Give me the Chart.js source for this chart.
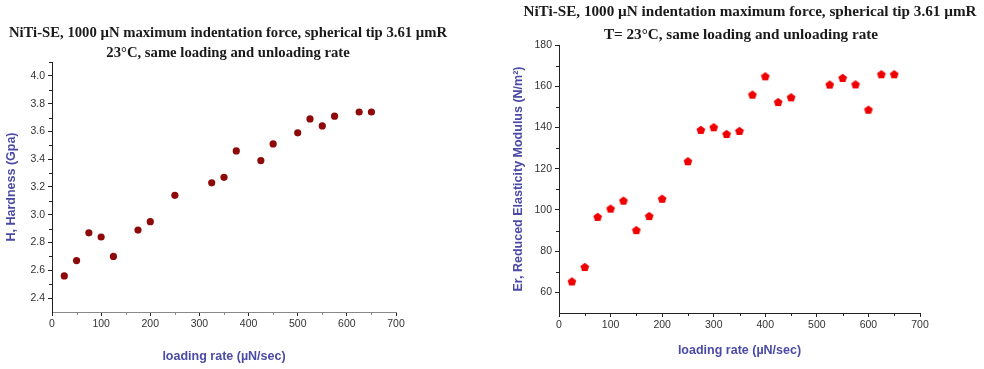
<!DOCTYPE html>
<html>
<head>
<meta charset="utf-8">
<script src="https://cdn.jsdelivr.net/npm/chart.js@4.4.1/dist/chart.umd.min.js"></script>
<style>
  body { margin: 0; background: #fff; }
  #hardness { position: absolute; left: 0; top: 0; }
  #modulus { position: absolute; left: 490px; top: 0; }
</style>
</head>
<body>
<canvas id="hardness" width="490" height="369"></canvas>
<canvas id="modulus" width="494" height="369"></canvas>
<script>
// hardness chart (left)
const hardnessRates = [25, 50, 75, 100, 125, 175, 200, 250, 325, 350, 375, 425, 450, 500, 525, 550, 575, 625, 650];
const hardnessValues = [2.56, 2.67, 2.87, 2.84, 2.70, 2.89, 2.95, 3.14, 3.23, 3.27, 3.46, 3.39, 3.51, 3.59, 3.69, 3.64, 3.71, 3.74, 3.74];
const hardnessTicks = [2.4, 2.6, 2.8, 3.0, 3.2, 3.4, 3.6, 3.8, 4.0];
const hardnessMinor = [2.5, 2.7, 2.9, 3.1, 3.3, 3.5, 3.7, 3.9, 4.1];

// reduced modulus chart (right)
const modulusRates = [25, 50, 75, 100, 125, 150, 175, 200, 250, 275, 300, 325, 350, 375, 400, 425, 450, 525, 550, 575, 600, 625, 650];
const modulusValues = [65.3, 72.3, 96.6, 100.6, 104.5, 90.2, 97.0, 105.4, 123.6, 138.8, 140.1, 136.8, 138.3, 155.9, 164.8, 152.3, 154.6, 160.8, 164.0, 160.9, 148.6, 165.8, 165.8];
const modulusTicks = [60, 80, 100, 120, 140, 160, 180];
const modulusMinor = [70, 90, 110, 130, 150, 170];

const rateTicks = [0, 100, 200, 300, 400, 500, 600, 700];
const rateMinor = [50, 150, 250, 350, 450, 550, 650];

const hardnessTitle = ['NiTi-SE, 1000 \u00b5N maximum indentation force, spherical tip 3.61 \u00b5mR', '23\u00b0C, same loading and unloading rate'];
const modulusTitle = ['NiTi-SE, 1000 \u00b5N indentation maximum force, spherical tip 3.61 \u00b5mR', 'T= 23\u00b0C, same loading and unloading rate'];

const axisBlue = '#4b4ba6';
const sans = '"Liberation Sans", Arial, sans-serif';

// titles drawn by hand so they can sit off-centre like the original
const titleLines = {
  id: 'titleLines',
  afterDraw(chart, args, opts) {
    const ctx = chart.ctx;
    ctx.save();
    ctx.font = 'bold ' + opts.size + 'px "Liberation Serif", "Times New Roman", serif';
    ctx.fillStyle = '#1a1a1a';
    ctx.textAlign = 'center';
    ctx.textBaseline = 'middle';
    opts.lines.forEach((t, i) => ctx.fillText(t, opts.x[i], opts.y + i * opts.dy));
    ctx.restore();
  }
};

// short minor ticks between the labelled ones
const minorTicks = {
  id: 'minorTicks',
  afterDraw(chart, args, opts) {
    const ctx = chart.ctx;
    const xs = chart.scales.x, ys = chart.scales.y;
    ctx.save();
    ctx.lineWidth = 1;
    ctx.strokeStyle = opts.xColor;
    opts.x.forEach(v => {
      const px = Math.round(xs.getPixelForValue(v)) + 0.5;
      ctx.beginPath(); ctx.moveTo(px, xs.top); ctx.lineTo(px, xs.top + 3); ctx.stroke();
    });
    ctx.strokeStyle = opts.yColor;
    opts.y.forEach(v => {
      const py = Math.round(ys.getPixelForValue(v)) + 0.5;
      ctx.beginPath(); ctx.moveTo(ys.right, py); ctx.lineTo(ys.right - 3, py); ctx.stroke();
    });
    ctx.restore();
  }
};

function pentagon(color, r) {
  const c = document.createElement('canvas');
  const s = Math.ceil(r * 2 + 2);
  c.width = s; c.height = s;
  const g = c.getContext('2d');
  g.fillStyle = color;
  g.beginPath();
  for (let i = 0; i < 5; i++) {
    const a = -Math.PI / 2 + i * 2 * Math.PI / 5;
    const px = s / 2 + r * Math.cos(a), py = s / 2 + 0.4 + r * Math.sin(a);
    if (i === 0) g.moveTo(px, py); else g.lineTo(px, py);
  }
  g.closePath();
  g.fill();
  return c;
}

function xy(xs, ys) {
  return xs.map((v, i) => ({ x: v, y: ys[i] }));
}

function createScatter(canvas, cfg) {
  return new Chart(canvas, {
    type: 'scatter',
    data: {
      datasets: [{
        data: cfg.points,
        pointStyle: cfg.pointStyle,
        pointRadius: cfg.radius,
        backgroundColor: cfg.color,
        borderWidth: 0
      }]
    },
    options: {
      responsive: false,
      animation: false,
      layout: { padding: cfg.padding },
      plugins: {
        legend: { display: false },
        tooltip: { enabled: false },
        titleLines: cfg.title,
        minorTicks: cfg.minor
      },
      scales: {
        x: {
          type: 'linear',
          min: 0,
          max: 700,
          afterBuildTicks: s => { s.ticks = rateTicks.map(v => ({ value: v })); },
          afterFit: s => { s.height = cfg.xHeight; },
          border: { color: cfg.xAxisColor, width: 1 },
          grid: { drawOnChartArea: false, drawTicks: true, tickLength: 4, color: '#222' },
          ticks: { color: '#333', padding: 2, maxRotation: 0, font: { family: sans, size: 10.5 } },
          title: {
            display: true,
            text: 'loading rate (\u00b5N/sec)',
            color: axisBlue,
            font: { family: sans, size: 12.5, weight: 'bold' },
            padding: { top: 0, bottom: cfg.xTitlePad }
          }
        },
        y: {
          min: cfg.yMin,
          max: cfg.yMax,
          afterBuildTicks: s => { s.ticks = cfg.yTicks.map(v => ({ value: v })); },
          afterFit: s => { s.width = cfg.yWidth; },
          border: { color: '#222', width: 1 },
          grid: { drawOnChartArea: false, drawTicks: true, tickLength: 4, color: '#222' },
          ticks: {
            color: '#333',
            padding: 3,
            font: { family: sans, size: 10.5 },
            callback: v => cfg.yFormat(v)
          },
          title: {
            display: true,
            text: cfg.yTitle,
            color: axisBlue,
            font: { family: sans, size: 12.5, weight: 'bold' },
            padding: { top: cfg.yTitlePad, bottom: 0 }
          }
        }
      }
    },
    plugins: [titleLines, minorTicks]
  });
}

const hardnessChart = createScatter(document.getElementById('hardness'), {
  points: xy(hardnessRates, hardnessValues),
  pointStyle: 'circle',
  radius: 3.6,
  color: '#8e0a0a',
  padding: { top: 62, right: 94, bottom: 0, left: 0 },
  title: { lines: hardnessTitle, x: [228, 228], y: 33, dy: 20, size: 14.7 },
  minor: { x: rateMinor, y: hardnessMinor, xColor: '#888', yColor: '#222' },
  xHeight: 57,
  xAxisColor: '#888',
  xTitlePad: 4.5,
  yMin: 2.3,
  yMax: 4.1,
  yTicks: hardnessTicks,
  yWidth: 52,
  yFormat: v => v.toFixed(1),
  yTitle: 'H, Hardness (Gpa)',
  yTitlePad: 4.5
});

const modulusChart = createScatter(document.getElementById('modulus'), {
  points: xy(modulusRates, modulusValues),
  pointStyle: pentagon('#ee0000', 4.6),
  radius: 4.7,
  color: '#ee0000',
  padding: { top: 45, right: 64, bottom: 0, left: 0 },
  title: { lines: modulusTitle, x: [260, 251], y: 12, dy: 23, size: 15.2 },
  minor: { x: rateMinor, y: modulusMinor, xColor: '#222', yColor: '#222' },
  xHeight: 56,
  xAxisColor: '#222',
  xTitlePad: 10.5,
  yMin: 50,
  yMax: 180,
  yTicks: modulusTicks,
  yWidth: 69,
  yFormat: v => String(v),
  yTitle: 'Er, Reduced Elasticity Modulus (N/m\u00b2)',
  yTitlePad: 21.5
});
</script>
</body>
</html>
